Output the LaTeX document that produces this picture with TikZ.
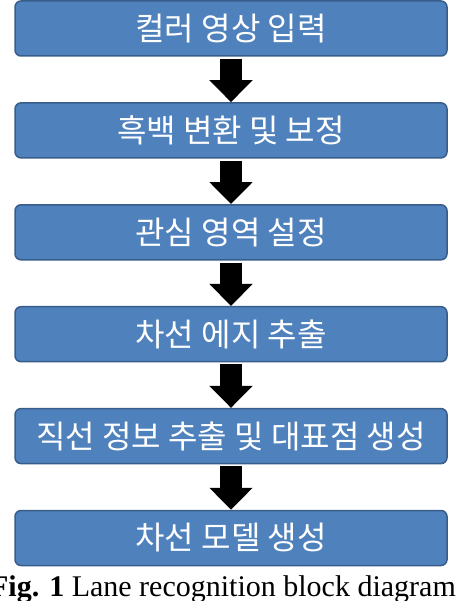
\documentclass[tikz,border=0pt]{standalone}
\usepackage{fontspec}
\setmainfont{Liberation Serif}
\newfontfamily\krfont{Noto Sans CJK KR}
\usetikzlibrary{positioning, arrows.meta}
\definecolor{boxblue}{RGB}{79,129,189}
\definecolor{boxline}{RGB}{56,93,138}
\tikzset{
  process/.style={rectangle, rounded corners=6pt, minimum width=432pt, minimum height=55pt, align=center, draw=boxline, line width=1.5pt, fill=boxblue, text=white, font=\krfont\fontsize{32}{36}\selectfont},
  arrow/.style={line width=22pt, -{Triangle[width=42pt, length=22pt]}, shorten <=2pt}
}
\begin{document}
\begin{tikzpicture}[node distance=45.4pt]
  \useasboundingbox (0,0) rectangle (457pt,-601pt);
  \clip (0,0) rectangle (457pt,-601pt);
  \node (input1) [process] at (231pt,-28.5pt) {컬러 영상 입력};
  \node (gray1) [process, below=of input1] {흑백 변환 및 보정};
  \node (roi1) [process, below=of gray1] {관심 영역 설정};
  \node (edge1) [process, below=of roi1] {차선 에지 추출};
  \node (line1) [process, below=of edge1] {직선 정보 추출 및 대표점 생성};
  \node (model1) [process, below=of line1] {차선 모델 생성};

  % 처리 순서
  \draw [arrow] (input1) -- (gray1);
  \draw [arrow] (gray1) -- (roi1);
  \draw [arrow] (roi1) -- (edge1);
  \draw [arrow] (edge1) -- (line1);
  \draw [arrow] (line1) -- (model1);

  \node (caption1) [anchor=base east, inner sep=0pt, font=\fontsize{30}{34}\selectfont] at (456pt,-596pt) {\textbf{Fig. 1} Lane recognition block diagram};
\end{tikzpicture}
\end{document}
